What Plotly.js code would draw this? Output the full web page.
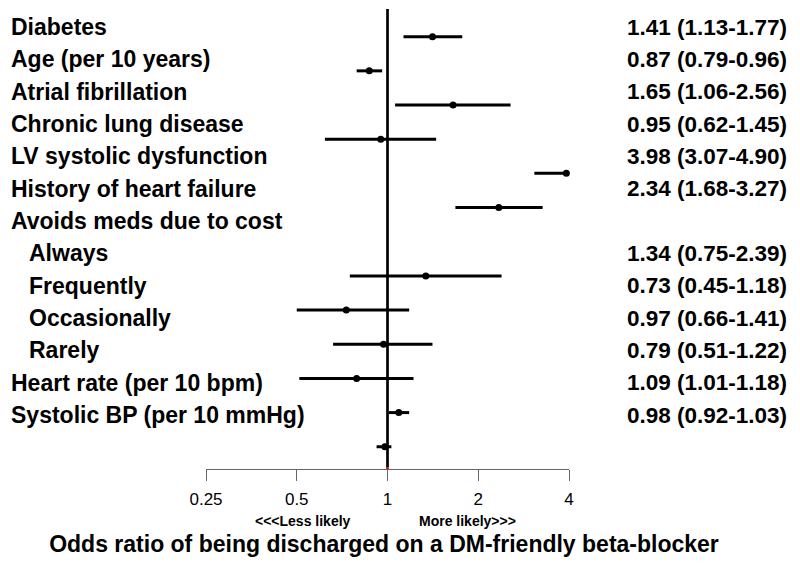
<!DOCTYPE html>
<html>
<head>
<meta charset="utf-8">
<script src="https://cdn.plot.ly/plotly-3.0.1.min.js"></script>
<style>html,body{margin:0;padding:0;background:#fff;}#chart{width:800px;height:564px;}</style>
</head>
<body>
<div id="chart"></div>
<script>
// ---- data ----
const rowLabels = ['Diabetes','Age (per 10 years)','Atrial fibrillation','Chronic lung disease',
  'LV systolic dysfunction','History of heart failure','Avoids meds due to cost',
  'Always','Frequently','Occasionally','Rarely','Heart rate (per 10 bpm)','Systolic BP (per 10 mmHg)'];
const rowIndent = [0,0,0,0,0,0,0,1,1,1,1,0,0];
const orLabels = ['1.41 (1.13-1.77)','0.87 (0.79-0.96)','1.65 (1.06-2.56)','0.95 (0.62-1.45)',
  '3.98 (3.07-4.90)','2.34 (1.68-3.27)','',
  '1.34 (0.75-2.39)','0.73 (0.45-1.18)','0.97 (0.66-1.41)','0.79 (0.51-1.22)','1.09 (1.01-1.18)','0.98 (0.92-1.03)'];
const oddsRatio = [1.41,0.87,1.65,0.95,3.92,2.34,null,1.34,0.73,0.97,0.79,1.09,0.98];
const ciLower   = [1.13,0.79,1.06,0.62,3.07,1.68,null,0.75,0.50,0.66,0.51,1.01,0.92];
const ciUpper   = [1.77,0.96,2.56,1.45,4.90,3.27,null,2.39,1.18,1.41,1.22,1.18,1.03];
const xTickVals = [0.25,0.5,1,2,4];
const xTickText = ['0.25','0.5','1','2','4'];
const refValue = 1;
const xTitle = 'Odds ratio of being discharged on a DM-friendly beta-blocker';
const lessText = '<<<Less likely';
const moreText = 'More likely>>>';

// ---- layout geometry ----
const W = 800, H = 564;
const mL = 205.7, mR = 230.7, mT = 9, mB = 95;
const plotW = W - mL - mR, plotH = H - mT - mB;
const FONT = 'Liberation Sans, Arial, Helvetica, sans-serif';
const px2paperX = p => (p - mL) / plotW;
const px2paperY = p => 1 - (p - mT) / plotH;

// y ranges (reversed): points axis and label axis
const yPointRange = [13.651, 0.190];
const yLabelRange = [14.67, 0.443];

const rowIdx = rowLabels.map((_, i) => i + 1);

const traces = [
  { // small red mark of the reference line at the axis
    type: 'scatter', mode: 'lines', x: [refValue, refValue], y: [yPointRange[0] - 0.06, yPointRange[0]],
    line: {color: '#e00000', width: 2.7}, hoverinfo: 'skip', showlegend: false, xaxis: 'x', yaxis: 'y', cliponaxis: false
  },
  { // reference line at OR = 1
    type: 'scatter', mode: 'lines', x: [refValue, refValue], y: [yPointRange[0] - 0.06, yPointRange[1]],
    line: {color: '#000', width: 2.7}, hoverinfo: 'skip', showlegend: false, xaxis: 'x', yaxis: 'y'
  },
  { // estimates with CI
    type: 'scatter', mode: 'markers', x: oddsRatio, y: rowIdx,
    marker: {color: '#000', size: 7},
    error_x: {type: 'data', symmetric: false,
      array: oddsRatio.map((v, i) => v == null ? null : ciUpper[i] - v),
      arrayminus: oddsRatio.map((v, i) => v == null ? null : v - ciLower[i]),
      color: '#000', thickness: 3, width: 0},
    showlegend: false, xaxis: 'x', yaxis: 'y', cliponaxis: false
  },
  { // holder for label axis
    type: 'scatter', mode: 'markers', x: [], y: [], xaxis: 'x', yaxis: 'y2', showlegend: false
  }
];

const annotations = [];
rowLabels.forEach((t, i) => {
  annotations.push({text: t, xref: 'paper', yref: 'y2', x: px2paperX(rowIndent[i] ? 26 : 8), y: i + 1,
    xanchor: 'left', yanchor: 'middle', showarrow: false,
    font: {family: FONT, size: 23, color: '#000', weight: 'bold'}});
  if (orLabels[i]) {
    annotations.push({text: orLabels[i], xref: 'paper', yref: 'y2', x: px2paperX(625), y: i + 1,
      xanchor: 'left', yanchor: 'middle', showarrow: false,
      font: {family: FONT, size: 22.5, color: '#000', weight: 'bold'}});
  }
});
annotations.push({text: lessText, xref: 'paper', yref: 'paper', x: px2paperX(303), y: px2paperY(521),
  xanchor: 'center', yanchor: 'middle', showarrow: false, borderpad: 0,
  font: {family: FONT, size: 14, color: '#000', weight: 'bold'}});
annotations.push({text: moreText, xref: 'paper', yref: 'paper', x: px2paperX(468), y: px2paperY(521),
  xanchor: 'center', yanchor: 'middle', showarrow: false, borderpad: 0,
  font: {family: FONT, size: 14, color: '#000', weight: 'bold'}});

const layout = {
  width: W, height: H,
  margin: {l: mL, r: mR, t: mT, b: mB, pad: 0},
  paper_bgcolor: '#fff', plot_bgcolor: '#fff',
  showlegend: false,
  title: {text: xTitle, x: 384 / W, xanchor: 'center', xref: 'container',
    y: 1 - 544 / H, yanchor: 'middle', yref: 'container',
    font: {family: FONT, size: 23, color: '#000', weight: 'bold'}},
  xaxis: {type: 'log', range: [Math.log10(0.25), Math.log10(4)],
    tickvals: xTickVals, ticktext: xTickText, ticks: 'outside', ticklen: 11, tickwidth: 1,
    tickcolor: '#666', showline: true, linecolor: '#666', linewidth: 1,
    showgrid: false, zeroline: false, ticklabelstandoff: 4,
    tickfont: {family: FONT, size: 17, color: '#000'}, fixedrange: true},
  yaxis: {range: yPointRange, visible: false, showgrid: false, zeroline: false, fixedrange: true},
  yaxis2: {range: yLabelRange, overlaying: 'y', visible: false, showgrid: false, zeroline: false, fixedrange: true},
  annotations: annotations
};

Plotly.newPlot('chart', traces, layout, {staticPlot: true, displayModeBar: false});
</script>
</body>
</html>
